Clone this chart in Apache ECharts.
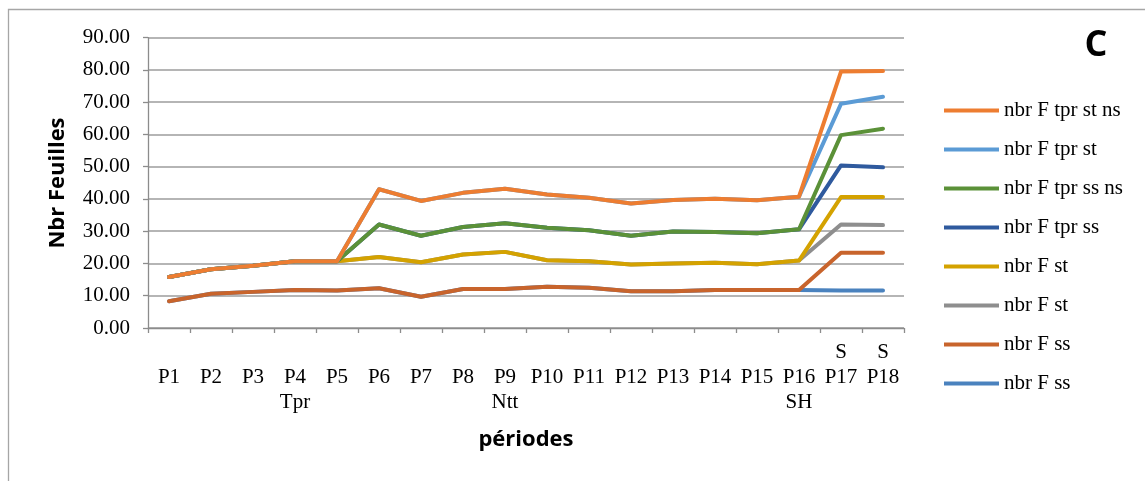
<!DOCTYPE html>
<html>
<head>
<meta charset="utf-8">
<script src="https://cdn.jsdelivr.net/npm/echarts@6/dist/echarts.min.js"></script>
<style>
  html, body { margin: 0; padding: 0; background: #fff; }
  #chart { width: 1145px; height: 481px; }
</style>
</head>
<body>
<div id="chart"></div>
<script>
// Periods on the x axis, with the notes printed above / below some of them
const periods = ['P1','P2','P3','P4','P5','P6','P7','P8','P9','P10','P11','P12','P13','P14','P15','P16','P17','P18'];
const notesAbove = ['','','','','','','','','','','','','','','','','S','S'];
const notesBelow = ['','','','Tpr','','','','','Ntt','','','','','','','SH','',''];

// Leaf counts per treatment
const tprStNs = [15.8,18.2,19.3,20.7,20.7,43.0,39.4,41.9,43.2,41.4,40.4,38.6,39.7,40.1,39.6,40.7,79.5,79.7];
const tprSt   = [15.8,18.2,19.3,20.7,20.7,43.0,39.4,41.9,43.2,41.4,40.4,38.6,39.7,40.1,39.6,40.7,69.5,71.7];
const tprSsNs = [15.8,18.2,19.3,20.7,20.7,32.1,28.6,31.3,32.5,31.1,30.3,28.6,29.9,29.8,29.4,30.6,59.8,61.8];
const tprSs   = [15.8,18.2,19.3,20.7,20.7,32.1,28.6,31.3,32.5,31.1,30.3,28.6,29.9,29.8,29.4,30.6,50.4,49.8];
const fSt1    = [15.8,18.2,19.3,20.7,20.7,22.0,20.4,22.8,23.6,21.0,20.7,19.7,20.0,20.2,19.8,20.9,40.6,40.6];
const fSt2    = [15.8,18.2,19.3,20.7,20.7,22.0,20.4,22.8,23.6,21.0,20.7,19.7,20.0,20.2,19.8,20.9,32.1,31.9];
const fSs1    = [8.3,10.6,11.2,11.8,11.6,12.3,9.7,12.1,12.1,12.8,12.5,11.4,11.4,11.8,11.8,11.8,23.3,23.3];
const fSs2    = [8.3,10.6,11.2,11.8,11.6,12.3,9.7,12.1,12.1,12.8,12.5,11.4,11.4,11.8,11.8,11.8,11.6,11.6];

const seriesNames = ['nbr F tpr st ns','nbr F tpr st','nbr F tpr ss ns','nbr F tpr ss','nbr F st','nbr F st','nbr F ss','nbr F ss'];
const seriesData = [tprStNs, tprSt, tprSsNs, tprSs, fSt1, fSt2, fSs1, fSs2];
const seriesColors = ['#ED7D31','#5B9BD5','#5B9138','#2F5A9E','#D4A200','#8E8E8E','#C8642C','#4A82BE'];

const yTicks = { min: 0, max: 90, interval: 10 };

const serif = '"Liberation Serif", "Times New Roman", serif';
const sans = '"Open Sans", "Liberation Sans", sans-serif';

// duplicate legend names get a trailing space so each keeps its own entry
const keys = seriesNames.map((n, i) => n + ' '.repeat(seriesNames.slice(0, i).filter(m => m === n).length));

const chart = echarts.init(document.getElementById('chart'), null, { renderer: 'canvas' });

chart.setOption({
  animation: false,
  backgroundColor: '#ffffff',
  grid: { left: 148, right: 241, top: 37.7, bottom: 153, containLabel: false },
  legend: {
    orient: 'vertical',
    left: 944,
    top: 100,
    padding: 0,
    itemWidth: 55,
    itemHeight: 4,
    itemGap: 18,
    icon: 'rect',
    data: keys,
    formatter: n => n.trim(),
    textStyle: { fontFamily: serif, fontSize: 21, color: '#000', lineHeight: 20 }
  },
  xAxis: {
    type: 'category',
    data: periods,
    boundaryGap: true,
    axisLine: { lineStyle: { color: '#8c8c8c', width: 1.3 } },
    axisTick: { show: true, length: 5, lineStyle: { color: '#8c8c8c', width: 1.3 } },
    axisLabel: {
      interval: 0,
      margin: 12,
      fontFamily: serif,
      fontSize: 21,
      color: '#000',
      lineHeight: 25,
      formatter: (v, i) => notesAbove[i] + '\n' + v + '\n' + notesBelow[i]
    },
    splitLine: { show: false }
  },
  yAxis: {
    type: 'value',
    min: yTicks.min,
    max: yTicks.max,
    interval: yTicks.interval,
    axisLine: { show: true, lineStyle: { color: '#8c8c8c', width: 1.3 } },
    axisTick: { show: true, length: 5, lineStyle: { color: '#8c8c8c', width: 1.3 } },
    axisLabel: {
      margin: 18,
      fontFamily: serif,
      fontSize: 21,
      color: '#000',
      formatter: v => v.toFixed(2)
    },
    splitLine: { show: true, lineStyle: { color: '#9c9c9c', width: 1.5 } }
  },
  series: seriesData.map((d, i) => ({
    name: keys[i],
    type: 'line',
    data: d,
    symbol: 'none',
    z: 20 - i,
    lineStyle: { color: seriesColors[i], width: 4, cap: 'round', join: 'round' },
    itemStyle: { color: seriesColors[i] }
  })),
  graphic: [
    {
      type: 'rect',
      shape: { x: 8.5, y: 9.5, width: 1160, height: 500 },
      style: { fill: 'none', stroke: '#a6a6a6', lineWidth: 1.3 },
      silent: true, z: 0
    },
    {
      type: 'text',
      x: 58, y: 183,
      rotation: Math.PI / 2,
      style: {
        text: 'Nbr Feuilles', fontFamily: sans, fontWeight: 'bold', fontSize: 22,
        fill: '#000', textAlign: 'center', textVerticalAlign: 'middle'
      }
    },
    {
      type: 'text',
      x: 526, y: 440,
      style: {
        text: 'périodes', fontFamily: sans, fontWeight: 'bold', fontSize: 22,
        fill: '#000', textAlign: 'center', textVerticalAlign: 'middle'
      }
    },
    {
      type: 'text',
      x: 1096, y: 46,
      style: {
        text: 'C', fontFamily: sans, fontWeight: 'bold', fontSize: 36,
        fill: '#000', textAlign: 'center', textVerticalAlign: 'middle'
      }
    }
  ]
});
</script>
</body>
</html>
